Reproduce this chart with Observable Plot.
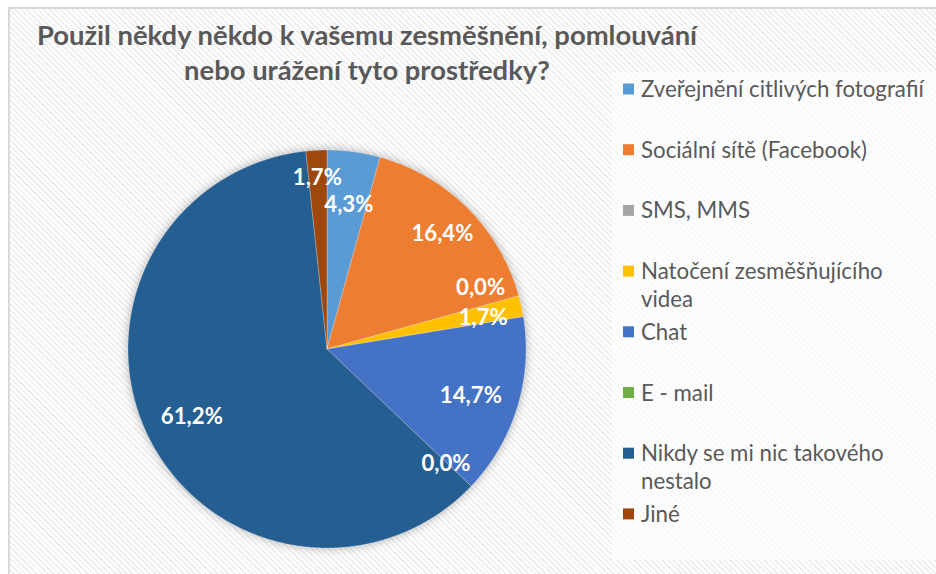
<!DOCTYPE html>
<html><head><meta charset="utf-8">
<script src="https://cdn.jsdelivr.net/npm/d3@7"></script>
<script src="https://cdn.jsdelivr.net/npm/@observablehq/plot@0.6"></script>
<style>
html,body{margin:0;padding:0;background:#fff;}
#wrap{position:relative;width:936px;height:574px;overflow:hidden;}
#bg{position:absolute;left:8px;top:7px;right:0;bottom:0;border-left:2px solid #d9d9d9;border-top:2px solid #d9d9d9;
  background:repeating-linear-gradient(45deg,#ffffff 0px,#ffffff 2px,#f0f0f0 2px,#f0f0f0 4px);}
#legbox{position:absolute;left:612px;top:72px;width:324px;height:488px;background:rgba(255,255,255,0.6);}
#chart{position:absolute;left:0;top:0;}
#overlay{position:absolute;left:0;top:0;}
</style></head><body>
<div id="wrap"><div id="bg"></div><div id="legbox"></div><div id="chart"></div><svg id="overlay" width="936" height="574"></svg></div>
<script>
// ---- data ----
const categories = ["Zveřejnění citlivých fotografií","Sociální sítě (Facebook)","SMS, MMS","Natočení zesměšňujícího videa","Chat","E - mail","Nikdy se mi nic takového nestalo","Jiné"];
const values = [4.3, 16.4, 0.0, 1.7, 14.7, 0.0, 61.2, 1.7];
const valueLabels = ["4,3%","16,4%","0,0%","1,7%","14,7%","0,0%","61,2%","1,7%"];
const colors = ["#5B9BD5","#ED7D31","#A5A5A5","#FFC000","#4472C4","#70AD47","#255E91","#9E480E"];
const titleLines = ["Použil někdy někdo k vašemu zesměšnění, pomlouvání","nebo urážení tyto prostředky?"];
const legendLines = [["Zveřejnění citlivých fotografií"],["Sociální sítě (Facebook)"],["SMS, MMS"],["Natočení zesměšňujícího","videa"],["Chat"],["E - mail"],["Nikdy se mi nic takového","nestalo"],["Jiné"]];

// ---- label placement (best-fit style, radius fraction and angle shift in %) ----
const labelLayout = {
  "Zveřejnění citlivých fotografií": {r: 0.73, shift: 0.25},
  "Sociální sítě (Facebook)": {r: 0.82, shift: 0},
  "SMS, MMS": {r: 0.83, shift: -1.7},
  "Natočení zesměšňujícího videa": {r: 0.80, shift: 0.35},
  "Chat": {r: 0.76, shift: 0.25},
  "E - mail": {r: 0.83, shift: 0.1},
  "Nikdy se mi nic takového nestalo": {r: 0.76, shift: -0.1},
  "Jiné": {r: 0.86, shift: -0.05}
};

const FONT = "Lato";
const ctx = document.createElement("canvas").getContext("2d");
function fit(text, weight, target) { ctx.font = `${weight} 100px ${FONT}`; return 100 * target / ctx.measureText(text).width; }
const titleSize = fit(titleLines[0], "bold", 662);
const legendSize = fit(legendLines[0][0], "normal", 283);
const labelSize = fit("61,2%", "bold", 62);

// ---- slices ----
const total = d3.sum(values);
let acc = 0;
const slices = categories.map((c, i) => {
  const start = acc; acc += values[i];
  return {cat: c, v: values[i], p0: start / total, p1: acc / total, label: valueLabels[i]};
});
const pts = [];
for (const s of slices) {
  if (s.v <= 0) continue;
  const a0 = s.p0 * 2 * Math.PI, a1 = s.p1 * 2 * Math.PI;
  const n = Math.max(2, Math.ceil((a1 - a0) / 0.005));
  pts.push({cat: s.cat, x: 0, y: 0});
  for (let k = 0; k <= n; k++) {
    const a = a0 + (a1 - a0) * k / n;
    pts.push({cat: s.cat, x: Math.sin(a), y: Math.cos(a)});
  }
  pts.push({cat: s.cat, x: 0, y: 0});
}
const labelData = slices.map(s => {
  const L = labelLayout[s.cat];
  const a = ((s.p0 + s.p1) / 2 + L.shift / 100) * 2 * Math.PI;
  return {cat: s.cat, text: s.label, x: L.r * Math.sin(a), y: L.r * Math.cos(a)};
});

const cx = 326.5, cy = 348.5, R = 199;
const W = 936, H = 574;
const chart = Plot.plot({
  width: W, height: H,
  marginLeft: cx - R, marginRight: W - (cx + R),
  marginTop: cy - R, marginBottom: H - (cy + R),
  x: {domain: [-1, 1], axis: null},
  y: {domain: [-1, 1], axis: null},
  color: {domain: categories, range: colors},
  style: {background: "transparent", overflow: "visible"},
  marks: [
    Plot.line(pts, {x: "x", y: "y", z: "cat", fill: "cat", stroke: "white", strokeWidth: 0.4, strokeOpacity: 0.6, curve: "linear"}),
    Plot.text(labelData, {x: "x", y: "y", text: "text", fill: "white", fontWeight: "bold", fontSize: labelSize, fontFamily: FONT})
  ]
});
document.getElementById("chart").appendChild(chart);
const lineG = chart.querySelector('g[aria-label="line"]');
if (lineG) lineG.style.filter = "drop-shadow(0 0 5px rgba(0,0,0,0.3))";

// ---- title & legend ----
const ov = d3.select("#overlay");
ov.selectAll("text.title").data(titleLines).join("text").attr("class", "title")
  .attr("x", 367).attr("y", (d, i) => 45 + i * 35)
  .attr("text-anchor", "middle").attr("fill", "#595959")
  .style("font-family", FONT).style("font-weight", "bold").style("font-size", titleSize + "px")
  .text(d => d);
const lg = ov.append("g");
legendLines.forEach((lines, i) => {
  const yc = 89 + i * 60.7;
  lg.append("rect").attr("x", 623).attr("y", yc - 5.5).attr("width", 11).attr("height", 11).attr("fill", colors[i]);
  lines.forEach((t, j) => {
    lg.append("text").attr("x", 641).attr("y", yc + j * 28).attr("dy", "0.36em")
      .attr("fill", "#595959").style("font-family", FONT).style("font-size", legendSize + "px").text(t);
  });
});
</script>
</body></html>
